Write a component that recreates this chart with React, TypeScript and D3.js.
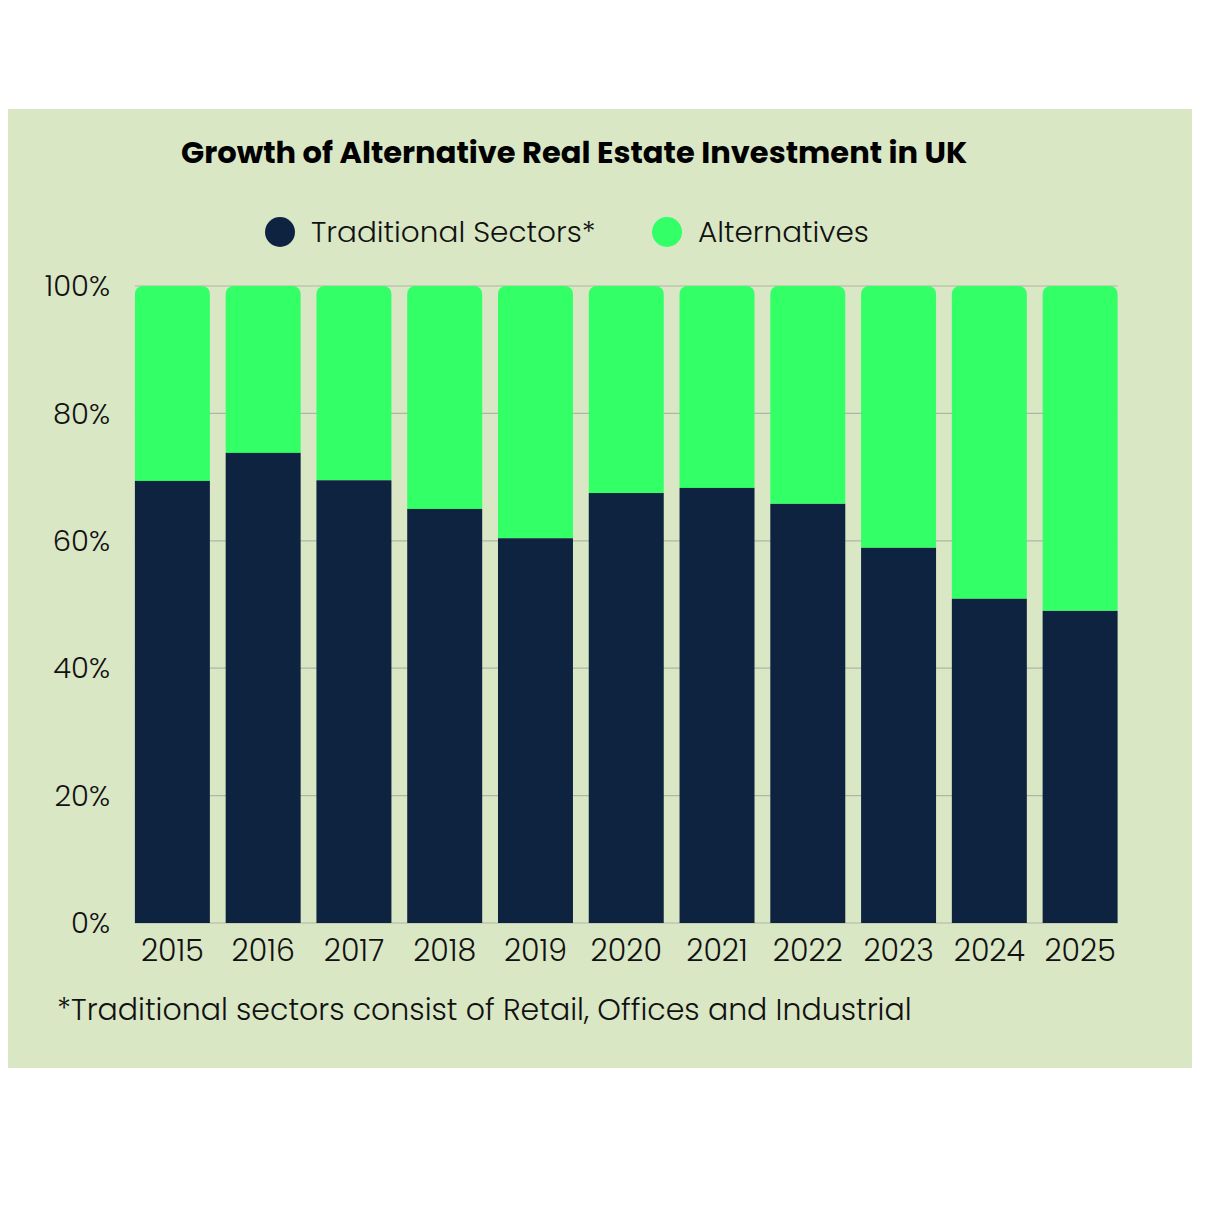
import React, { useEffect, useRef } from 'react';
import * as d3 from 'd3';

const years = ['2015', '2016', '2017', '2018', '2019', '2020', '2021', '2022', '2023', '2024', '2025'];
const traditional = [69.4, 73.8, 69.5, 65.0, 60.4, 67.5, 68.3, 65.8, 58.9, 50.9, 49.0];
const alternatives = traditional.map((v) => 100 - v);
const yTicks = [0, 20, 40, 60, 80, 100];
const seriesNames = ['Traditional Sectors*', 'Alternatives'];

const DARK = '#0e2340';
const GREEN = '#33ff66';
const BG = '#d9e7c5';
const FONT = 'Poppins, Lato, sans-serif';

const App: React.FC = () => {
  const svgRef = useRef<SVGSVGElement>(null);

  useEffect(() => {
    if (!svgRef.current) return;
    const svg = d3.select(svgRef.current);
    svg.selectAll('*').remove();

    const width = 1206;
    const height = 1206;

    // panel background
    svg.append('rect')
      .attr('x', 8).attr('y', 109)
      .attr('width', 1184).attr('height', 959)
      .attr('fill', BG);

    const x = d3.scaleBand().domain(years).range([127, 1125.5]).paddingInner(0.174).paddingOuter(0.087);
    const y = d3.scaleLinear().domain([0, 100]).range([923, 286]);

    // gridlines
    svg.append('g')
      .selectAll('line')
      .data(yTicks)
      .join('line')
      .attr('x1', x(years[0])!)
      .attr('x2', x(years[years.length - 1])! + x.bandwidth())
      .attr('y1', (d) => y(d))
      .attr('y2', (d) => y(d))
      .attr('stroke', '#aeb6a5')
      .attr('stroke-width', 1.2);

    // y labels
    svg.append('g')
      .selectAll('text')
      .data(yTicks)
      .join('text')
      .attr('x', 110)
      .attr('y', (d) => y(d))
      .attr('dy', '0.35em')
      .attr('text-anchor', 'end')
      .attr('fill', '#111')
      .style('font-family', FONT)
      .style('font-weight', 300)
      .style('font-size', '29px')
      .text((d) => `${d}%`);

    const r = 8;
    // alternatives (top, rounded corners)
    svg.append('g')
      .selectAll('path')
      .data(years)
      .join('path')
      .attr('fill', GREEN)
      .attr('d', (d, i) => {
        const x0 = x(d)!;
        const w = x.bandwidth();
        const top = y(traditional[i] + alternatives[i]);
        const bottom = y(traditional[i]);
        const p = d3.path();
        p.moveTo(x0, bottom);
        p.lineTo(x0, top + r);
        p.arcTo(x0, top, x0 + r, top, r);
        p.lineTo(x0 + w - r, top);
        p.arcTo(x0 + w, top, x0 + w, top + r, r);
        p.lineTo(x0 + w, bottom);
        p.closePath();
        return p.toString();
      });

    // traditional (bottom)
    svg.append('g')
      .selectAll('rect')
      .data(years)
      .join('rect')
      .attr('x', (d) => x(d)!)
      .attr('y', (d, i) => y(traditional[i]))
      .attr('width', x.bandwidth())
      .attr('height', (d, i) => y(0) - y(traditional[i]))
      .attr('fill', DARK);

    // x labels
    svg.append('g')
      .selectAll('text')
      .data(years)
      .join('text')
      .attr('x', (d) => x(d)! + x.bandwidth() / 2)
      .attr('y', 961)
      .attr('text-anchor', 'middle')
      .attr('fill', '#111')
      .style('font-family', FONT)
      .style('font-weight', 300)
      .style('font-size', '30px')
      .text((d) => d);

    // title
    svg.append('text')
      .attr('x', 181)
      .attr('y', 163)
      .attr('fill', '#000')
      .style('font-family', FONT)
      .style('font-size', '30.5px')
      .style('font-weight', 'bold')
      .text('Growth of Alternative Real Estate Investment in UK');

    // legend
    const legend = [
      { name: seriesNames[0], color: DARK, cx: 280, tx: 311 },
      { name: seriesNames[1], color: GREEN, cx: 667, tx: 698 },
    ];
    const lg = svg.append('g');
    lg.selectAll('circle')
      .data(legend)
      .join('circle')
      .attr('cx', (d) => d.cx)
      .attr('cy', 232)
      .attr('r', 15)
      .attr('fill', (d) => d.color);
    lg.selectAll('text')
      .data(legend)
      .join('text')
      .attr('x', (d) => d.tx)
      .attr('y', 232)
      .attr('dy', '0.35em')
      .attr('fill', '#111')
      .style('font-family', FONT)
      .style('font-weight', 300)
      .style('font-size', '29.5px')
      .text((d) => d.name);

    // footnote
    svg.append('text')
      .attr('x', 57)
      .attr('y', 1020)
      .attr('fill', '#111')
      .style('font-family', FONT)
      .style('font-weight', 300)
      .style('font-size', '30px')
      .text('*Traditional sectors consist of Retail, Offices and Industrial');

    svg.attr('width', width).attr('height', height);
  }, []);

  return (
    <svg
      ref={svgRef}
      style={{ position: 'absolute', left: 0, top: 0, background: '#fff' }}
    />
  );
};

export default App;
